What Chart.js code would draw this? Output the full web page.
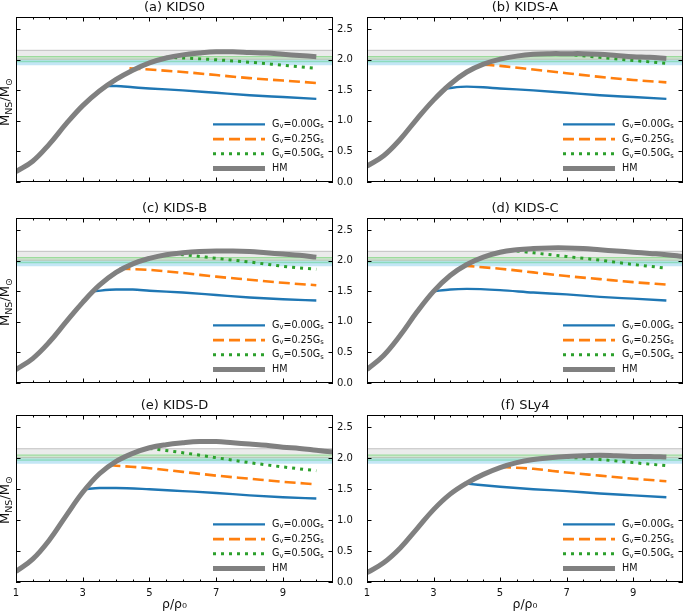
<!DOCTYPE html>
<html>
<head>
<meta charset="utf-8">
<script src="https://cdn.jsdelivr.net/npm/chart.js@4.4.1/dist/chart.umd.min.js"></script>
<style>
  body { margin: 0; background: #fff; width: 685px; height: 612px; overflow: hidden; position: relative; font-family: 'DejaVu Sans', sans-serif; }
  canvas { position: absolute; }
  .ylab { position: absolute; width: 120px; text-align: center; font-size: 13px; color: #111; transform: rotate(-90deg); white-space: nowrap; line-height: 16px; }
  .ylab sub { font-size: 9.5px; vertical-align: -3px; }
</style>
</head>
<body>
<canvas id="pa" width="365" height="185" style="left:0;top:0"></canvas>
<canvas id="pb" width="340" height="185" style="left:345px;top:0"></canvas>
<canvas id="pc" width="365" height="185" style="left:0;top:201px"></canvas>
<canvas id="pd" width="340" height="185" style="left:345px;top:201px"></canvas>
<canvas id="pe" width="365" height="214" style="left:0;top:398px"></canvas>
<canvas id="pf" width="340" height="214" style="left:345px;top:398px"></canvas>
<div class="ylab" style="left:-53px;top:92px">M<sub>NS</sub>/M<sub>⊙</sub></div>
<div class="ylab" style="left:-53px;top:292px">M<sub>NS</sub>/M<sub>⊙</sub></div>
<div class="ylab" style="left:-53px;top:490px">M<sub>NS</sub>/M<sub>⊙</sub></div>
<script>
// mass of the neutron star vs central density, six EoS panels

const panelTitles = ['(a) KIDS0', '(b) KIDS-A', '(c) KIDS-B', '(d) KIDS-C', '(e) KIDS-D', '(f) SLy4'];
const seriesLabels = ['G_v=0.00G_s', 'G_v=0.25G_s', 'G_v=0.50G_s', 'HM'];
const xTickValues = [1, 3, 5, 7, 9];
const yTickValues = [0, 0.5, 1, 1.5, 2, 2.5];

// hadronic matter curve, sampled on this density grid
const rhoHM = [1, 1.5, 2, 2.5, 3, 3.5, 4, 4.5, 5, 5.5, 6, 6.5, 7, 7.5, 8, 8.5, 9, 9.5, 10, 10.5];

// observational bands (lower, upper)
const grayBand = [2.01, 2.155];
const greenBand = [1.97, 2.05];
const blueBand = [1.91, 2.0];

// (a) KIDS0
const kids0HM = [0.17, 0.34, 0.62, 0.95, 1.25, 1.49, 1.68, 1.83, 1.95, 2.03, 2.08, 2.11, 2.13, 2.13, 2.12, 2.11, 2.09, 2.07, 2.05, null];
const kids0G000Rho = [3.7, 4, 4.5, 5, 6, 7, 8, 9, 10];
const kids0G000 = [1.57, 1.57, 1.55, 1.53, 1.50, 1.46, 1.42, 1.39, 1.36];
const kids0G025Rho = [4.4, 5, 6, 7, 8, 9, 10];
const kids0G025 = [1.86, 1.84, 1.80, 1.75, 1.70, 1.66, 1.62];
const kids0G050Rho = [5.5, 6, 7, 8, 9, 10];
const kids0G050 = [2.04, 2.03, 2.00, 1.96, 1.91, 1.86];

// (b) KIDS-A
const kidsAHM = [0.26, 0.43, 0.70, 1.03, 1.34, 1.60, 1.80, 1.93, 2.01, 2.06, 2.09, 2.10, 2.10, 2.10, 2.09, 2.07, 2.05, 2.04, 2.02, null];
const kidsAG000Rho = [3.35, 4, 4.5, 5, 6, 7, 8, 9, 10];
const kidsAG000 = [1.53, 1.56, 1.55, 1.53, 1.50, 1.46, 1.42, 1.39, 1.36];
const kidsAG025Rho = [4.5, 5, 6, 7, 8, 9, 10];
const kidsAG025 = [1.92, 1.90, 1.84, 1.78, 1.72, 1.67, 1.63];
const kidsAG050Rho = [7, 8, 9, 10];
const kidsAG050 = [2.09, 2.04, 1.99, 1.94];

// (c) KIDS-B
const kidsBHM = [0.22, 0.40, 0.67, 1.00, 1.32, 1.60, 1.81, 1.95, 2.04, 2.10, 2.13, 2.15, 2.16, 2.16, 2.15, 2.13, 2.11, 2.09, 2.06, null];
const kidsBG000Rho = [3.3, 4, 4.5, 5, 6, 7, 8, 9, 10];
const kidsBG000 = [1.50, 1.53, 1.53, 1.51, 1.48, 1.44, 1.40, 1.37, 1.35];
const kidsBG025Rho = [4.1, 5, 6, 7, 8, 9, 10];
const kidsBG025 = [1.87, 1.85, 1.80, 1.74, 1.69, 1.64, 1.60];
const kidsBG050Rho = [5.7, 6, 7, 8, 9, 10];
const kidsBG050 = [2.11, 2.10, 2.04, 1.98, 1.91, 1.86];

// (d) KIDS-C
const kidsCHM = [0.22, 0.45, 0.78, 1.16, 1.50, 1.76, 1.94, 2.06, 2.14, 2.18, 2.20, 2.21, 2.21, 2.20, 2.18, 2.16, 2.14, 2.12, 2.10, 2.07];
const kidsCG000Rho = [3, 3.5, 4, 5, 6, 7, 8, 9, 10];
const kidsCG000 = [1.50, 1.53, 1.54, 1.52, 1.48, 1.45, 1.41, 1.38, 1.35];
const kidsCG025Rho = [3.9, 5, 6, 7, 8, 9, 10];
const kidsCG025 = [1.92, 1.87, 1.81, 1.75, 1.70, 1.65, 1.61];
const kidsCG050Rho = [5.5, 6, 7, 8, 9, 10];
const kidsCG050 = [2.16, 2.13, 2.07, 2.01, 1.94, 1.88];

// (e) KIDS-D
const kidsDHM = [0.17, 0.37, 0.68, 1.07, 1.45, 1.75, 1.95, 2.08, 2.17, 2.22, 2.25, 2.27, 2.27, 2.25, 2.23, 2.21, 2.18, 2.16, 2.13, 2.10];
const kidsDG000Rho = [3.05, 3.5, 4, 5, 6, 7, 8, 9, 10];
const kidsDG000 = [1.50, 1.52, 1.52, 1.50, 1.47, 1.44, 1.40, 1.37, 1.35];
const kidsDG025Rho = [3.8, 4, 5, 6, 7, 8, 9, 10];
const kidsDG025 = [1.89, 1.88, 1.84, 1.78, 1.72, 1.67, 1.62, 1.58];
const kidsDG050Rho = [5, 6, 7, 8, 9, 10];
const kidsDG050 = [2.16, 2.09, 2.01, 1.93, 1.86, 1.80];

// (f) SLy4
const sly4HM = [0.15, 0.31, 0.55, 0.86, 1.17, 1.42, 1.60, 1.74, 1.85, 1.93, 1.98, 2.01, 2.03, 2.04, 2.05, 2.04, 2.03, 2.03, 2.02, null];
const sly4G000Rho = [4, 5, 6, 7, 8, 9, 10];
const sly4G000 = [1.59, 1.54, 1.50, 1.47, 1.43, 1.40, 1.37];
const sly4G025Rho = [5, 6, 7, 8, 9, 10];
const sly4G025 = [1.86, 1.83, 1.77, 1.72, 1.67, 1.63];
const sly4G050Rho = [7, 8, 9, 10];
const sly4G050 = [2.02, 1.98, 1.93, 1.88];

const panels = [
  { id: 'pa', hm: kids0HM, b: [kids0G000Rho, kids0G000], o: [kids0G025Rho, kids0G025], g: [kids0G050Rho, kids0G050] },
  { id: 'pb', hm: kidsAHM, b: [kidsAG000Rho, kidsAG000], o: [kidsAG025Rho, kidsAG025], g: [kidsAG050Rho, kidsAG050] },
  { id: 'pc', hm: kidsBHM, b: [kidsBG000Rho, kidsBG000], o: [kidsBG025Rho, kidsBG025], g: [kidsBG050Rho, kidsBG050] },
  { id: 'pd', hm: kidsCHM, b: [kidsCG000Rho, kidsCG000], o: [kidsCG025Rho, kidsCG025], g: [kidsCG050Rho, kidsCG050] },
  { id: 'pe', hm: kidsDHM, b: [kidsDG000Rho, kidsDG000], o: [kidsDG025Rho, kidsDG025], g: [kidsDG050Rho, kidsDG050] },
  { id: 'pf', hm: sly4HM, b: [sly4G000Rho, sly4G000], o: [sly4G025Rho, sly4G025], g: [sly4G050Rho, sly4G050] }
];

const xMin = 1, xMax = 10.5;
const xMinor = [];
for (let v = 1.5; v < xMax; v += 0.5) xMinor.push(v);

Chart.defaults.font.family = "'DejaVu Sans', sans-serif";
Chart.defaults.color = '#111';

function pts(xs, ys) {
  return xs.map((x, i) => ({ x: x, y: ys[i] }));
}

function bandSets(band, fill, edge, edgeW) {
  return [
    { data: pts([xMin, xMax], [band[0], band[0]]), borderColor: edge, borderWidth: edgeW, pointRadius: 0, fill: false, order: 20, clip: 0 },
    { data: pts([xMin, xMax], [band[1], band[1]]), borderColor: edge, borderWidth: edgeW, pointRadius: 0, fill: '-1', backgroundColor: fill, order: 20, clip: 0 }
  ];
}

// subscript text like G_v -> G with small v
function drawRich(ctx, text, x, y, size) {
  const parts = text.split(/(_\w)/).filter(s => s.length);
  let cx = x;
  parts.forEach(p => {
    if (p[0] === '_') {
      ctx.font = (size * 0.7) + "px 'DejaVu Sans'";
      ctx.fillText(p.slice(1), cx, y + size * 0.22);
      cx += ctx.measureText(p.slice(1)).width;
    } else {
      ctx.font = size + "px 'DejaVu Sans'";
      ctx.fillText(p, cx, y);
      cx += ctx.measureText(p).width;
    }
  });
}

// keep axis label overhang from moving the plot box
function noOverhang(s) {
  s.paddingTop = 0; s.paddingBottom = 0; s.paddingLeft = 0; s.paddingRight = 0;
}

const panelDecor = {
  id: 'panelDecor',
  afterDatasetsDraw(chart) {
    const { ctx, chartArea: a, scales } = chart;
    const x = scales.x, y = scales.y;
    ctx.save();
    ctx.strokeStyle = '#000';
    ctx.lineWidth = 1;
    const seg = (x1, y1, x2, y2) => { ctx.beginPath(); ctx.moveTo(x1, y1); ctx.lineTo(x2, y2); ctx.stroke(); };
    xMinor.forEach(v => {
      const px = Math.round(x.getPixelForValue(v)) + 0.5;
      seg(px, a.bottom, px, a.bottom - 2.5);
      seg(px, a.top, px, a.top + 2.5);
    });
    x.ticks.forEach(t => {
      const px = Math.round(x.getPixelForValue(t.value)) + 0.5;
      seg(px, a.bottom, px, a.bottom - 4.5);
      seg(px, a.top, px, a.top + 4.5);
    });
    y.ticks.forEach(t => {
      const py = Math.round(y.getPixelForValue(t.value)) + 0.5;
      seg(a.left, py, a.left + 4.5, py);
      seg(a.right, py, a.right - 4.5, py);
    });
    ctx.strokeRect(Math.round(a.left) + 0.5, Math.round(a.top) + 0.5, Math.round(a.right - a.left) - 1, Math.round(a.bottom - a.top) - 1);

    // legend in the lower right corner
    const rows = [57.6, 42.9, 28.2, 13.5];
    const items = chart.data.datasets.filter(d => d.legendText);
    items.sort((p, q) => p.legendRow - q.legendRow);
    items.forEach((d, i) => {
      const ly = a.bottom - rows[i];
      ctx.strokeStyle = d.borderColor;
      ctx.lineWidth = d.borderWidth;
      ctx.setLineDash(d.borderDash || []);
      ctx.lineCap = 'butt';
      seg(a.right - 120, ly, a.right - 68, ly);
      ctx.setLineDash([]);
      ctx.fillStyle = '#111';
      ctx.textBaseline = 'middle';
      drawRich(ctx, d.legendText, a.right - 61, ly, 9.6);
    });
    ctx.restore();
  }
};

function makePanel(p, idx) {
  const leftCol = idx % 2 === 0;
  const bottomRow = idx >= 4;
  const datasets = [
    ...bandSets(grayBand, 'rgba(190,190,190,0.3)', 'rgba(160,160,160,0.6)', 1),
    ...bandSets(blueBand, 'rgba(135,206,235,0.5)', 'rgba(135,206,235,0)', 0),
    ...bandSets(greenBand, 'rgba(144,238,144,0.35)', '#8fe88f', 1.2),
    { data: pts(p.b[0], p.b[1]), borderColor: '#1f77b4', borderWidth: 2.4, pointRadius: 0, cubicInterpolationMode: 'monotone', order: 3, clip: 0, legendText: seriesLabels[0], legendRow: 0 },
    { data: pts(p.o[0], p.o[1]), borderColor: '#ff7f0e', borderWidth: 2.6, borderDash: [11, 5], pointRadius: 0, cubicInterpolationMode: 'monotone', order: 2, clip: 0, legendText: seriesLabels[1], legendRow: 1 },
    { data: pts(p.g[0], p.g[1]), borderColor: '#2ca02c', borderWidth: 3, borderDash: [3, 5], pointRadius: 0, cubicInterpolationMode: 'monotone', order: 1, clip: 0, legendText: seriesLabels[2], legendRow: 2 },
    { data: pts(rhoHM, p.hm), borderColor: '#808080', borderWidth: 5, pointRadius: 0, tension: 0.4, order: 0, clip: 0, spanGaps: false, legendText: seriesLabels[3], legendRow: 3 }
  ];
  return new Chart(document.getElementById(p.id), {
    type: 'line',
    data: { datasets: datasets },
    options: {
      responsive: false,
      animation: false,
      events: [],
      layout: { autoPadding: false, padding: { left: leftCol ? 16 : 22, right: 0, top: 0, bottom: 0 } },
      plugins: {
        legend: { display: false },
        tooltip: { enabled: false },
        title: {
          display: true, text: panelTitles[idx], fullSize: false,
          font: { size: 13, weight: 'normal' }, color: '#111',
          padding: { top: 0, bottom: 1.4 }
        }
      },
      scales: {
        x: {
          type: 'linear', min: xMin, max: xMax,
          afterBuildTicks: s => { s.ticks = xTickValues.map(v => ({ value: v })); },
          afterFit: s => { s.height = bottomRow ? 30 : 3; noOverhang(s); },
          grid: { display: false, drawTicks: false },
          border: { display: false },
          ticks: { display: bottomRow, padding: 5, font: { size: 10 }, color: '#111', maxRotation: 0 },
          title: { display: bottomRow, text: 'ρ/ρ₀', font: { size: 12.5 }, color: '#111', padding: { top: 0, bottom: 0 } }
        },
        y: {
          type: 'linear', position: 'right', min: 0, max: 2.7,
          afterBuildTicks: s => { s.ticks = yTickValues.map(v => ({ value: v })); },
          afterFit: s => { s.width = leftCol ? 32 : 2; noOverhang(s); },
          grid: { display: false, drawTicks: false },
          border: { display: false },
          ticks: { display: leftCol, padding: 4, font: { size: 10 }, color: '#111', callback: v => v.toFixed(1) }
        }
      }
    },
    plugins: [panelDecor]
  });
}

panels.forEach(makePanel);
</script>
</body>
</html>
